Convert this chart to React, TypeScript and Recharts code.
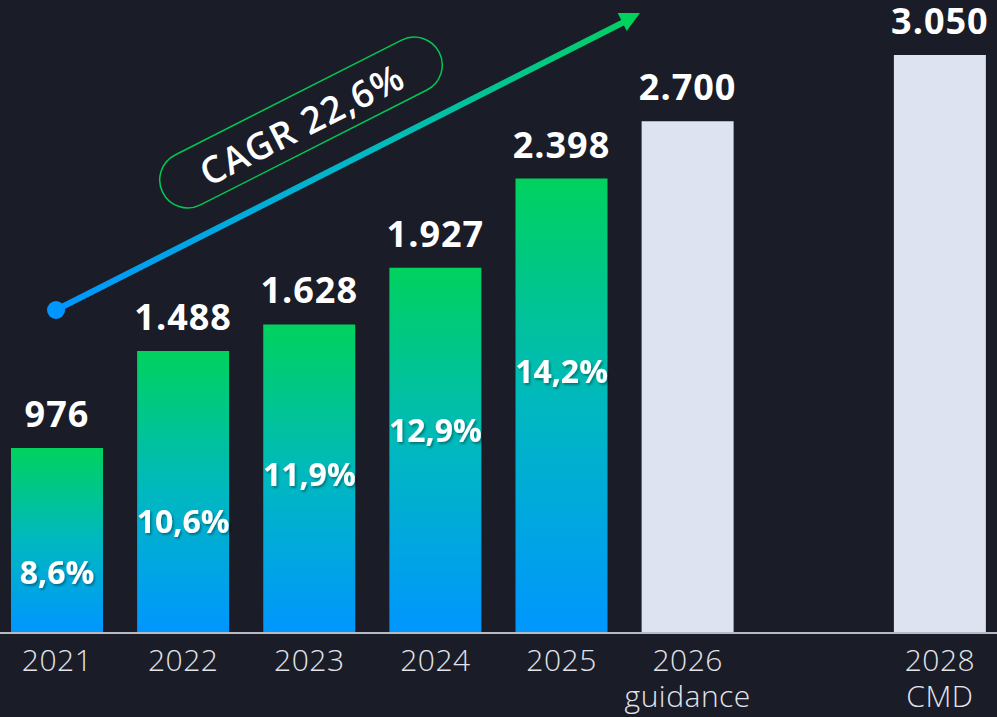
import React from "react";
import { ComposedChart, Bar, Line, XAxis, YAxis, Cell, LabelList } from "recharts";

// revenue per year (2027 is an empty slot on the axis)
const categories = ["2021", "2022", "2023", "2024", "2025", "2026\nguidance", "", "2028\nCMD"];
const revenue = [976, 1488, 1628, 1927, 2398, 2700, null, 3050];
const isTarget = [false, false, false, false, false, true, false, true];
const marginPct = ["8,6%", "10,6%", "11,9%", "12,9%", "14,2%", null, null, null];
// value level where the margin label sits inside each bar
const marginLabelAt = [322, 591, 839, 1076, 1383, null, null, null];

const data = categories.map((c, i) => ({
    year: c,
    revenue: revenue[i],
    margin: marginPct[i],
    marginAt: marginLabelAt[i],
}));

const FONT = "'Open Sans', 'DejaVu Sans', sans-serif";
const BG = "#1a1c27";

const fmt = (v: any) => {
    if (v == null) return "";
    return String(v).replace(/\B(?=(\d{3})+(?!\d))/g, ".");
};

const YearTick = (props: any) => {
    const { x, y, payload } = props;
    const lines = String(payload.value).split("\n");
    return (
        <text x={x} y={y} textAnchor="middle" fill="#e2e4ea" fontFamily={FONT} fontWeight={300} fontSize={30} letterSpacing={0.5}>
            {lines.map((l, i) => (
                <tspan key={i} x={x} dy={i === 0 ? 30 : 36}>{l}</tspan>
            ))}
        </text>
    );
};

const MarginLabel = (props: any) => {
    const { value } = props;
    if (value == null) return null;
    const vb = props.viewBox || props;
    const x = (vb.x ?? props.x) + (vb.width || 0) / 2;
    const y = (vb.y ?? props.y) + (vb.height || 0) / 2;
    return (
        <text x={x} y={y} textAnchor="middle" dominantBaseline="central" fill="#ffffff" filter="url(#pctShadow)"
            fontFamily={FONT} fontWeight={700} fontSize={32}>{value}</text>
    );
};

export default function App() {
    return (
        <div style={{ position: "fixed", left: 0, top: 0, width: 997, height: 717, overflow: "hidden", background: BG }}>
            <div style={{ position: "absolute", left: -6, top: 0 }}>
                <ComposedChart width={1009} height={717} data={data} margin={{ top: 0, right: 0, bottom: 0, left: 0 }}>
                    <defs>
                        <linearGradient id="barGrad" x1="0" y1="0" x2="0" y2="1">
                            <stop offset="0%" stopColor="#00d25e" />
                            <stop offset="50%" stopColor="#00b8c0" />
                            <stop offset="100%" stopColor="#0096ff" />
                        </linearGradient>
                        <filter id="pctShadow" x="-20%" y="-30%" width="140%" height="160%">
                            <feDropShadow dx={1.5} dy={2} stdDeviation={1} floodColor="#000" floodOpacity={0.35} />
                        </filter>
                    </defs>
                    <XAxis
                        dataKey="year"
                        height={84}
                        interval={0}
                        tickLine={false}
                        axisLine={{ stroke: "#b8bac2", strokeWidth: 2 }}
                        tick={<YearTick />}
                    />
                    <YAxis hide domain={[0, 3340]} />
                    <Bar dataKey="revenue" barSize={92} isAnimationActive={false}>
                        {data.map((d, i) => (
                            <Cell key={i} fill={isTarget[i] ? "#dde3f0" : "url(#barGrad)"} />
                        ))}
                        <LabelList
                            dataKey="revenue"
                            position="top"
                            offset={21}
                            formatter={fmt}
                            fill="#ffffff"
                            fontFamily={FONT}
                            fontWeight={700}
                            fontSize={36}
                            letterSpacing={1}
                        />
                    </Bar>
                    <Line dataKey="marginAt" stroke="none" dot={false} activeDot={false} isAnimationActive={false}>
                        <LabelList dataKey="margin" content={<MarginLabel />} />
                    </Line>
                </ComposedChart>
            </div>
            <svg width={997} height={717} style={{ position: "absolute", left: 0, top: 0, pointerEvents: "none" }}>
                <defs>
                    <linearGradient id="arrowGrad" gradientUnits="userSpaceOnUse" x1={56} y1={310} x2={640} y2={14}>
                        <stop offset="0%" stopColor="#0096ff" />
                        <stop offset="50%" stopColor="#00b8c8" />
                        <stop offset="100%" stopColor="#00d25e" />
                    </linearGradient>
                </defs>
                <line x1={56} y1={310} x2={624} y2={22} stroke="url(#arrowGrad)" strokeWidth={6} />
                <circle cx={56} cy={310} r={9} fill="#0096ff" />
                <polygon points="640,13 626.7,30.9 617.7,13.1" fill="#00d25e" />
                <g transform="translate(301,122.5) rotate(-26.9)">
                    <rect x={-155} y={-28} width={310} height={56} rx={28} fill="none" stroke="#00c853" strokeWidth={1.5} />
                    <text x={0} y={1} textAnchor="middle" dominantBaseline="central" fill="#ffffff"
                        fontFamily={FONT} fontWeight={600} fontSize={37} letterSpacing={1}>CAGR 22,6%</text>
                </g>
            </svg>
        </div>
    );
}
